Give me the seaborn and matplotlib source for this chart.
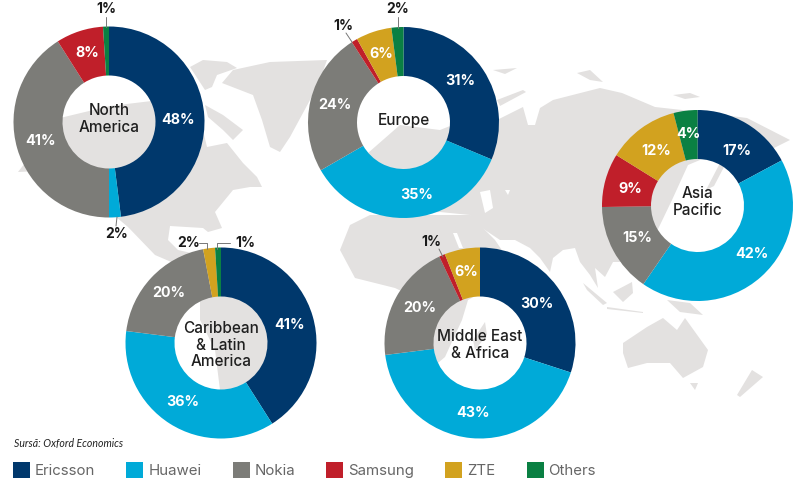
import math
import matplotlib
matplotlib.use("Agg")
import matplotlib.pyplot as plt
from matplotlib.patches import Polygon, Patch
import seaborn as sns

vendors = ["Ericsson", "Huawei", "Nokia", "Samsung", "ZTE", "Others"]
north_america = [48, 2, 41, 8, 0, 1]
europe = [31, 35, 24, 1, 6, 2]
asia_pacific = [17, 42, 15, 9, 12, 4]
latin_america = [41, 36, 20, 0, 2, 1]
middle_east_africa = [30, 43, 20, 1, 6, 0]
colors = ["#00386c", "#00aad8", "#7c7c78", "#c01f2a", "#d2a21f", "#0a8043"]

sns.set_theme(style="white", rc={"font.family": ["Inter", "DejaVu Sans"]})
palette = sns.color_palette(colors)
LAND = "#e3e1e0"

# decorative background map (pixel outline of the continents)
land = [
    # North America
    [(18, 172), (60, 118), (110, 106), (160, 100), (200, 118), (207, 147), (227, 143), (243, 163), (257, 177),
     (262, 187), (250, 187), (233, 190), (215, 212), (222, 228), (208, 232), (203, 228), (170, 226), (168, 240),
     (178, 250), (200, 255), (235, 265), (230, 292), (190, 270), (155, 255), (128, 227), (90, 195), (60, 170)],
    # Greenland and Arctic islands
    [(222, 83), (233, 70), (270, 62), (327, 60), (320, 80), (310, 100), (290, 137), (280, 152), (270, 147),
     (262, 120), (253, 95)],
    [(190, 67), (203, 60), (227, 62), (237, 68), (217, 75), (212, 87), (205, 90)],
    [(205, 105), (223, 115), (243, 130), (233, 140), (223, 130), (208, 117)],
    # South America
    [(200, 290), (250, 260), (300, 310), (300, 350), (255, 390), (240, 420), (225, 430), (220, 390), (215, 350),
     (200, 320)],
    # Africa
    [(340, 250), (350, 225), (370, 215), (430, 215), (470, 215), (495, 240), (510, 262), (495, 285), (468, 300),
     (462, 320), (455, 335), (445, 357), (432, 368), (420, 300), (395, 288), (355, 278)],
    [(485, 322), (487, 335), (475, 350), (473, 340)],
    # Eurasia
    [(360, 160), (400, 125), (440, 130), (470, 118), (497, 120), (523, 107), (528, 125), (535, 125), (540, 108),
     (553, 100), (600, 88), (622, 93), (655, 107), (700, 112), (747, 118), (790, 140), (760, 155), (730, 150),
     (700, 160), (688, 165), (672, 200), (660, 225), (655, 235), (640, 262), (613, 262), (605, 277), (595, 268),
     (598, 288), (590, 275), (580, 262), (575, 248), (563, 250), (553, 258), (550, 272), (540, 258), (530, 248),
     (515, 240), (500, 240), (482, 228), (478, 260), (470, 215), (440, 212), (400, 215), (370, 205)],
    [(497, 100), (523, 90), (526, 92), (500, 106)],
    [(720, 163), (724, 167), (714, 186), (706, 190)],
    # Australia, New Zealand
    [(623, 343), (647, 327), (663, 318), (677, 330), (685, 318), (708, 350), (703, 367), (683, 378), (670, 363),
     (647, 363), (628, 368), (623, 353)],
    [(690, 383), (698, 383), (695, 390)],
    [(752, 370), (763, 377), (740, 397), (737, 395)],
    # Indonesia, New Guinea
    [(613, 292), (632, 282), (633, 293), (623, 302)],
    [(583, 283), (607, 303), (603, 305), (587, 290)],
    [(607, 307), (643, 312), (643, 313), (607, 309)],
    [(667, 300), (690, 303), (703, 315), (680, 312)],
    # Arctic islets
    [(493, 70), (517, 68), (505, 74)],
    [(577, 73), (590, 70), (603, 82), (590, 80)],
    [(673, 95), (690, 93), (700, 97), (685, 99)],
]
seas = [
    [(480, 192), (490, 190), (493, 208), (485, 213)],
    [(505, 190), (510, 190), (508, 195)],
    [(453, 233), (457, 233), (463, 248), (459, 248)],
    [(425, 165), (432, 162), (420, 180), (410, 178)],
]

# centre x, centre y, centre label, label y, shares,
# outside labels {slice: (text x, text y, leader points)}, small label nudges {slice: (dx, dy)}
regions = [
    (109, 122, "North\nAmerica", 119, north_america,
     {1: (117, 234, [(117, 217), (116, 226)]), 5: (106, 9, [(106, 27), (106, 17)])},
     {0: (-2, 3)}),
    (403.5, 122.5, "Europe", 120, europe,
     {3: (343, 26, [(352, 42), (346, 33)]), 5: (398, 9, [(398, 28), (398, 17)])},
     {0: (-2, -1), 1: (9, 3)}),
    (697.5, 205.5, "Asia\nPacific", 202, asia_pacific, {},
     {0: (3, 7), 1: (7, -3), 2: (2, 0), 3: (1, 3), 4: (1, 4)}),
    (221, 343, "Caribbean\n& Latin\nAmerica", 345, latin_america,
     {4: (189, 243, [(207, 249), (207, 243), (199, 243)]), 5: (245, 243, [(217, 249), (217, 243), (230, 243)])},
     {0: (0, 3)}),
    (480, 343, "Middle East\n& Africa", 345, middle_east_africa,
     {3: (431, 242, [(443, 257), (439, 249)])},
     {0: (-1, 4), 2: (2, 0)}),
]

fig = plt.figure(figsize=(8, 4.83), dpi=100)
ax = fig.add_axes([0, 0, 1, 1])

for pts in land:
    ax.add_patch(Polygon(pts, closed=True, facecolor=LAND, edgecolor="none", zorder=0.5))
for pts in seas:
    ax.add_patch(Polygon(pts, closed=True, facecolor="white", edgecolor="none", zorder=0.6))

R = 95.5
W = 49
for cx, cy, name, name_y, shares, outside, nudges in regions:
    wedges, _ = ax.pie(shares, colors=palette, center=(cx, cy), radius=R, startangle=-90,
                       counterclock=True, wedgeprops={"width": W, "linewidth": 0})
    for i, (w, v) in enumerate(zip(wedges, shares)):
        if v == 0:
            continue
        if i in outside:
            tx, ty, leader = outside[i]
            ax.text(tx, ty, f"{v}%", ha="center", va="center", fontsize=10, fontweight="bold", color="#1a1a1a")
            ax.plot(*zip(*leader), color="#777777", lw=0.7, zorder=3)
        else:
            a = math.radians((w.theta1 + w.theta2) / 2)
            dx, dy = nudges.get(i, (0, 0))
            ax.text(cx + 71 * math.cos(a) + dx, cy + 71 * math.sin(a) - 1 + dy, f"{v}%", ha="center", va="center",
                    fontsize=10.3, fontweight="bold", color="white")
    ax.text(cx, name_y, name, ha="center", va="center", fontsize=11, fontweight="medium",
            color="#1f1f1f", linespacing=1.12)

ax.set_xlim(0, 800)
ax.set_ylim(483, 0)
ax.set_aspect("equal")
ax.axis("off")

ax.text(14, 444, "Sursă: Oxford Economics", ha="left", va="center", fontsize=7.6, style="italic",
        family=["Lato", "Liberation Sans"], color="#222222")

handles = [Patch(facecolor=c, edgecolor="none", label=v) for c, v in zip(palette, vendors)]
ax.legend(handles=handles, loc="center left", bbox_to_anchor=(13 / 800, 1 - 470 / 483), ncols=6, frameon=False,
          fontsize=10.8, handlelength=1.13, handleheight=1.33, handletextpad=0.33,
          columnspacing=2.08, borderpad=0, borderaxespad=0, labelcolor="#666666")

fig.savefig("out.png", dpi=100)
